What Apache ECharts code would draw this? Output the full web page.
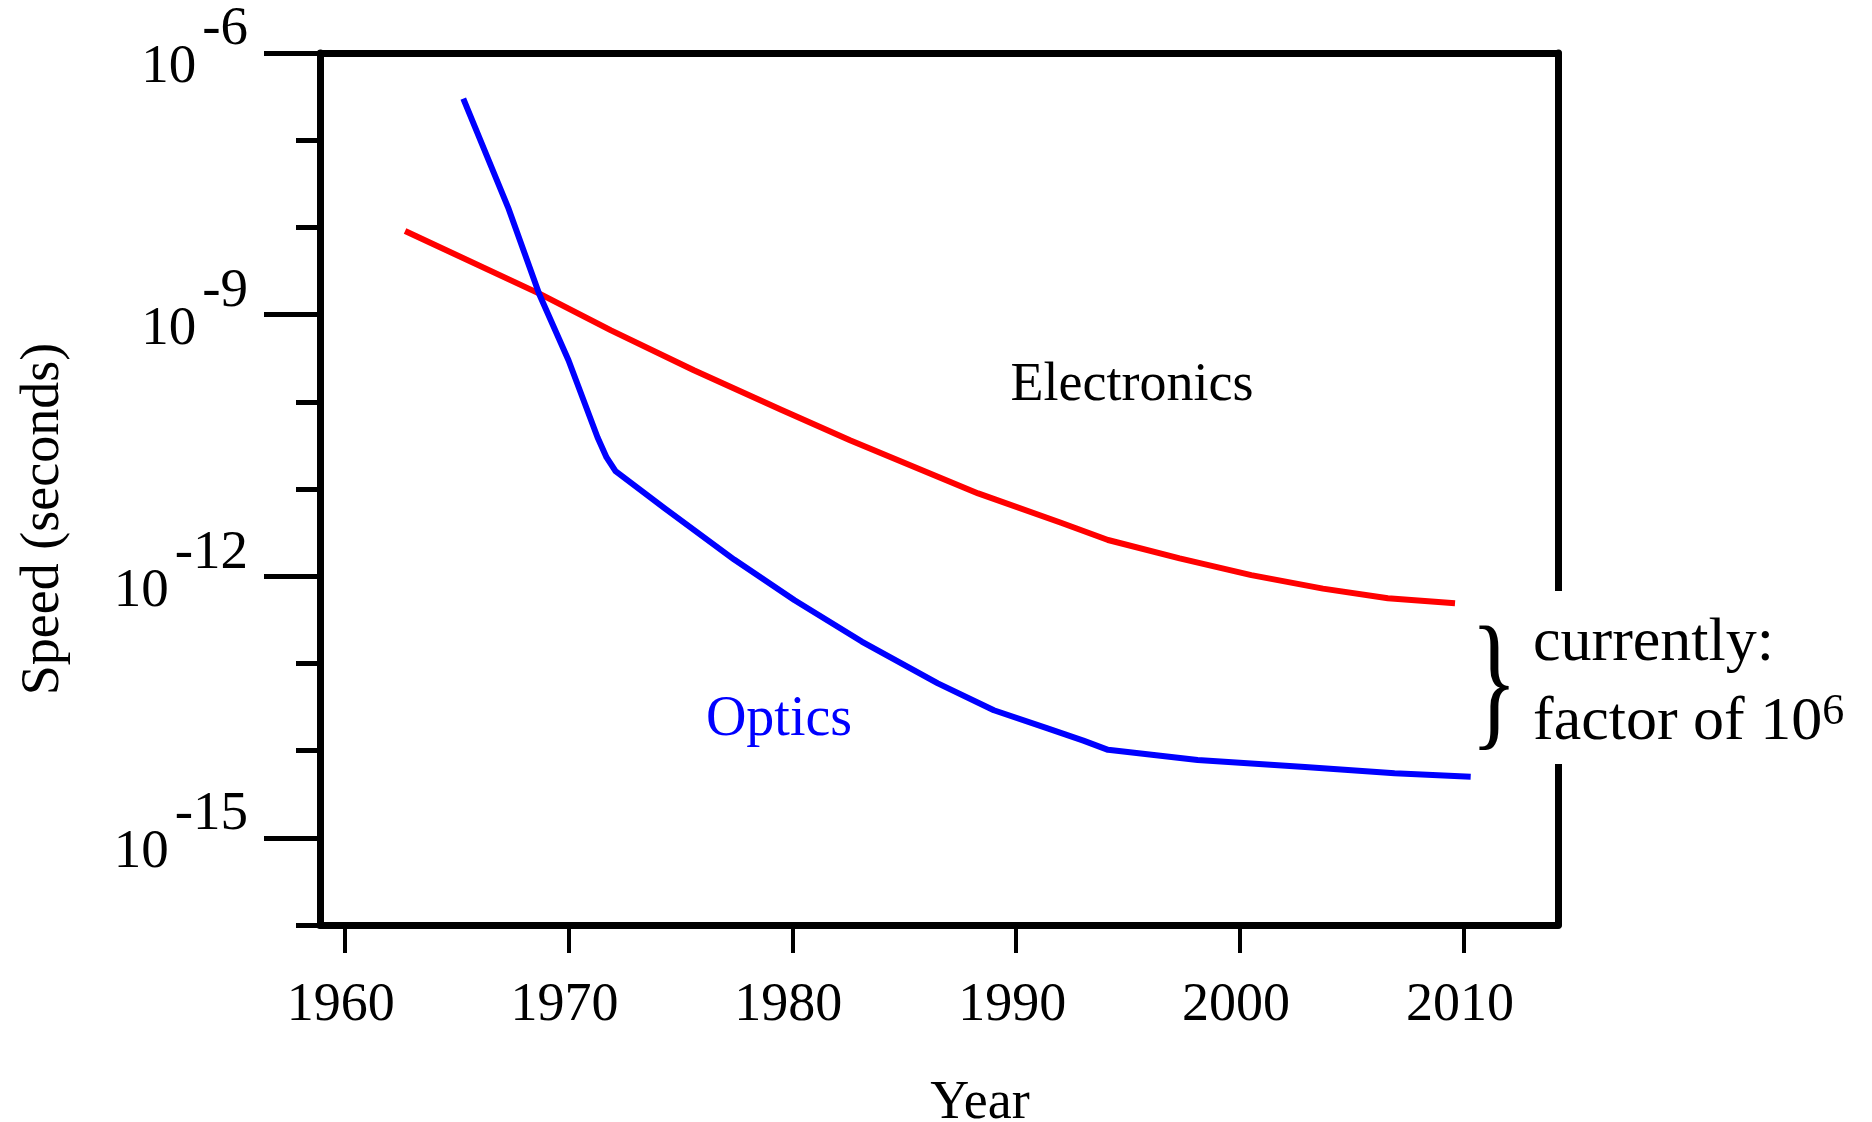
<!DOCTYPE html>
<html>
<head>
<meta charset="utf-8">
<script src="https://cdn.jsdelivr.net/npm/echarts@6/dist/echarts.min.js"></script>
<style>
html,body{margin:0;padding:0;background:#fff;}
#chart{width:1872px;height:1122px;}
</style>
</head>
<body>
<div id="chart"></div>
<script>
// ---- data ----
const yearTicks = [1960, 1970, 1980, 1990, 2000, 2010];
const labelTicks = [1e-15, 1e-12, 1e-9, 1e-6];
const decadeTicks = [1e-16, 1e-15, 1e-14, 1e-13, 1e-12, 1e-11, 1e-10, 1e-9, 1e-8, 1e-7, 1e-6];

const yearsElectronics = [1962.7, 1968.7, 1971.9, 1975.6, 1979.5, 1982.6, 1988.3, 1992.0, 1994.1, 1997.3, 2000.5, 2003.7, 2006.6, 2009.6];
const speedElectronics = [9.1e-9, 1.74e-9, 6.6e-10, 2.3e-10, 8.1e-11, 3.6e-11, 8.9e-12, 4.1e-12, 2.6e-12, 1.6e-12, 1.03e-12, 7.2e-13, 5.6e-13, 4.9e-13];

const yearsOptics = [1965.3, 1967.3, 1968.7, 1970.0, 1971.3, 1971.7, 1972.1, 1974.3, 1977.4, 1980.1, 1983.1, 1986.5, 1989.0, 1991.4, 1993.0, 1994.1, 1998.1, 2002.9, 2006.9, 2010.3];
const speedOptics = [3.0e-7, 1.7e-8, 1.7e-9, 3.0e-10, 3.9e-11, 2.3e-11, 1.6e-11, 6.0e-12, 1.55e-12, 5.3e-13, 1.78e-13, 5.9e-14, 2.9e-14, 1.8e-14, 1.3e-14, 1.02e-14, 7.8e-15, 6.5e-15, 5.5e-15, 5.0e-15];

const FONT = 'Liberation Serif';
const pairs = (xs, ys) => xs.map((x, i) => [x, ys[i]]);

const chart = echarts.init(document.getElementById('chart'));
chart.setOption({
  backgroundColor: '#fff',
  animation: false,
  grid: { left: 320, right: 314, top: 53, bottom: 197, outerBoundsMode: 'none' },
  xAxis: [
    {
      type: 'value', min: 1958.9, max: 2014.2, position: 'bottom',
      name: 'Year', nameLocation: 'middle', nameGap: 152,
      nameTextStyle: { fontFamily: FONT, fontSize: 54, color: '#000', padding: [0, 0, 0, 82] },
      axisLine: { show: true, lineStyle: { color: '#000', width: 7 } },
      axisTick: { show: true, length: 28, customValues: yearTicks, lineStyle: { color: '#000', width: 4 } },
      axisLabel: { show: true, customValues: yearTicks, margin: 54, fontFamily: FONT, fontSize: 54, color: '#000',
        padding: [0, 8, 0, 0], formatter: v => String(v) },
      splitLine: { show: false }
    },
    {
      type: 'value', min: 1958.9, max: 2014.2, position: 'top',
      axisLine: { show: true, lineStyle: { color: '#000', width: 7 } },
      axisTick: { show: false }, axisLabel: { show: false }, splitLine: { show: false }
    }
  ],
  yAxis: [
    {
      type: 'log', logBase: 10, min: 1e-16, max: 1e-6, position: 'left',
      name: 'Speed (seconds)', nameLocation: 'middle', nameRotate: 90, nameGap: 249,
      nameTextStyle: { fontFamily: FONT, fontSize: 54, color: '#000', padding: [0, 60, 0, 0] },
      axisLine: { show: true, lineStyle: { color: '#000', width: 7 } },
      axisTick: { show: true, length: 24, customValues: decadeTicks, lineStyle: { color: '#000', width: 5 } },
      axisLabel: { show: false },
      splitLine: { show: false }, minorTick: { show: false }
    },
    {
      type: 'log', logBase: 10, min: 1e-16, max: 1e-6, position: 'left',
      axisLine: { show: false },
      axisTick: { show: true, length: 56, customValues: labelTicks, lineStyle: { color: '#000', width: 5 } },
      axisLabel: {
        show: true, customValues: labelTicks, margin: 72, align: 'right',
        padding: [30, 0, 0, 0],
        formatter: v => '{b|10}{e|' + Math.round(Math.log10(v)) + '}',
        rich: {
          b: { fontFamily: FONT, fontSize: 55, lineHeight: 55, color: '#000', verticalAlign: 'bottom' },
          e: { fontFamily: FONT, fontSize: 55, lineHeight: 55, color: '#000', verticalAlign: 'bottom', padding: [0, 0, 38, 6] }
        }
      },
      splitLine: { show: false }, minorTick: { show: false }
    },
    {
      type: 'log', logBase: 10, min: 1e-16, max: 1e-6, position: 'right',
      axisLine: { show: true, lineStyle: { color: '#000', width: 7 } },
      axisTick: { show: false }, axisLabel: { show: false }, splitLine: { show: false }
    }
  ],
  series: [
    {
      name: 'Electronics', type: 'line', xAxisIndex: 0, yAxisIndex: 0,
      data: pairs(yearsElectronics, speedElectronics),
      showSymbol: false, symbol: 'none', smooth: false,
      lineStyle: { color: '#ff0000', width: 6, join: 'round' }, z: 3
    },
    {
      name: 'Optics', type: 'line', xAxisIndex: 0, yAxisIndex: 0,
      data: pairs(yearsOptics, speedOptics),
      showSymbol: false, symbol: 'none', smooth: false,
      lineStyle: { color: '#0000ff', width: 6, join: 'round' }, z: 4
    }
  ],
  graphic: [
    { type: 'text', x: 1132, y: 386, z: 100,
      style: { text: 'Electronics', fontFamily: FONT, fontSize: 54, fill: '#000', align: 'center', verticalAlign: 'middle' } },
    { type: 'text', x: 779, y: 720, z: 100,
      style: { text: 'Optics', fontFamily: FONT, fontSize: 56, fill: '#0000ff', align: 'center', verticalAlign: 'middle' } },
    { type: 'rect', z: 90, shape: { x: 1540, y: 591, width: 40, height: 173 }, style: { fill: '#fff' } },
    { type: 'text', x: 1494, y: 690, z: 100, scaleX: 0.7, scaleY: 1.08,
      style: { text: '}', fontFamily: FONT, fontSize: 140, fill: '#000', align: 'center', verticalAlign: 'middle' } },
    { type: 'text', x: 1533, y: 644, z: 100,
      style: { text: 'currently:', fontFamily: FONT, fontSize: 62, fill: '#000', align: 'left', verticalAlign: 'middle' } },
    { type: 'text', x: 1533, y: 723, z: 100,
      style: {
        text: '{f|factor of 10}{s|6}', align: 'left', verticalAlign: 'middle',
        rich: {
          f: { fontFamily: FONT, fontSize: 62, lineHeight: 62, fill: '#000', verticalAlign: 'bottom' },
          s: { fontFamily: FONT, fontSize: 44, lineHeight: 44, fill: '#000', verticalAlign: 'bottom', padding: [0, 0, 20, 0] }
        }
      } }
  ]
});
</script>
</body>
</html>
